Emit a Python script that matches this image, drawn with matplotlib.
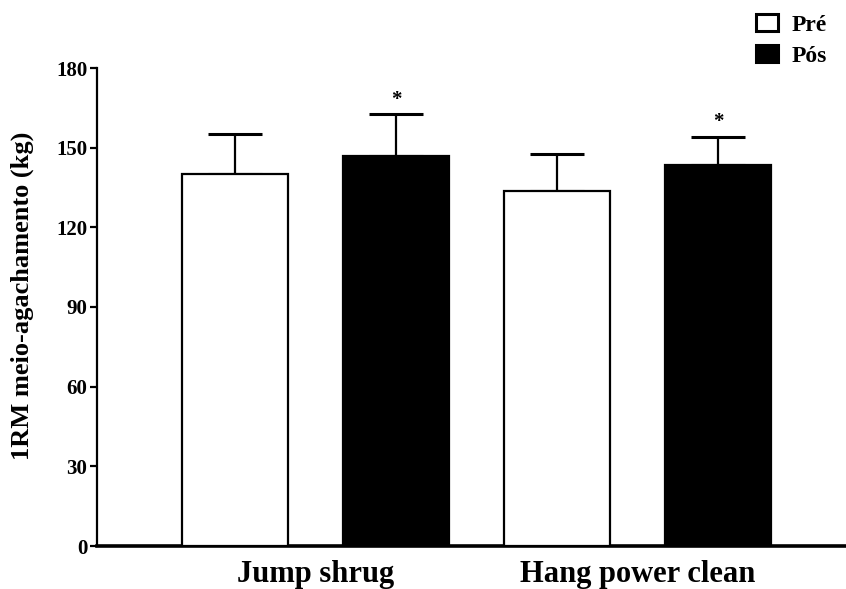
import matplotlib
matplotlib.use("Agg")
import matplotlib.pyplot as plt
import numpy as np

# values
groups = ["Jump shrug", "Hang power clean"]
pre_mean = [140, 133.5]
pre_sd = [15, 14]
post_mean = [147, 143.5]
post_sd = [15.5, 10.5]
post_signif = ["*", "*"]
yticks = [0, 30, 60, 90, 120, 150, 180]

plt.rcParams['font.family'] = ['Liberation Serif', 'DejaVu Serif']
plt.rcParams['font.weight'] = 'bold'

W, H = 846, 589
fig = plt.figure(figsize=(W / 100, H / 100), dpi=100)
ax = fig.add_axes([97 / W, 1 - 546 / H, 1 - 97 / W, (546 - 68) / H])

x = np.arange(len(groups)) * 2
w = 0.66
xpre = x
xpost = x + 1

ax.bar(xpre, pre_mean, width=w, color="white", edgecolor="black", linewidth=1.6, zorder=3, label="Pré")
ax.bar(xpost, post_mean, width=w, color="black", edgecolor="black", linewidth=1.6, zorder=3, label="Pós")

ax.errorbar(xpre, pre_mean, yerr=[np.zeros(len(pre_sd)), pre_sd], fmt="none",
            ecolor="black", elinewidth=1.6, capsize=19.5, capthick=2.2, zorder=2)
ax.errorbar(xpost, post_mean, yerr=[np.zeros(len(post_sd)), post_sd], fmt="none",
            ecolor="black", elinewidth=1.6, capsize=19.5, capthick=2.2, zorder=2)

for xi, m, s, t in zip(xpost, post_mean, post_sd, post_signif):
    ax.text(xi, m + s + 1.8, t, ha="center", va="bottom", fontsize=15, fontweight="bold")

ax.set_xlim(-0.857, 3.795)
ax.set_ylim(0, 180)
ax.set_yticks(yticks)
ax.set_yticklabels([str(v) for v in yticks], fontsize=15, fontweight="bold")
ax.set_xticks([])

# group labels under the axis, baseline near the bottom edge
for xi, g in zip((xpre + xpost) / 2, groups):
    xf = fig.transFigure.inverted().transform(ax.transData.transform((xi, 0)))[0]
    fig.text(xf, 1 - 582 / H, g, ha="center", va="baseline", fontsize=22, fontweight="bold")

fig.text(22 / W, 1 - 296 / H, "1RM meio-agachamento (kg)", rotation=90,
         ha="center", va="center", fontsize=19, fontweight="bold")

ax.spines["top"].set_visible(False)
ax.spines["right"].set_visible(False)
ax.spines["left"].set_linewidth(1.6)
ax.spines["bottom"].set_linewidth(2.6)
ax.tick_params(axis="y", direction="out", length=5, width=1.6, pad=2)

leg = fig.legend(loc="upper left", bbox_to_anchor=(756 / W, 1 - 14 / H), frameon=False,
                 prop={"size": 17, "weight": "bold"}, handlelength=0.95, handleheight=0.7,
                 handletextpad=0.55, labelspacing=0.42, borderpad=0, borderaxespad=0)
for p in leg.get_patches():
    p.set_linewidth(2.2)

fig.savefig("out.png", dpi=100)
